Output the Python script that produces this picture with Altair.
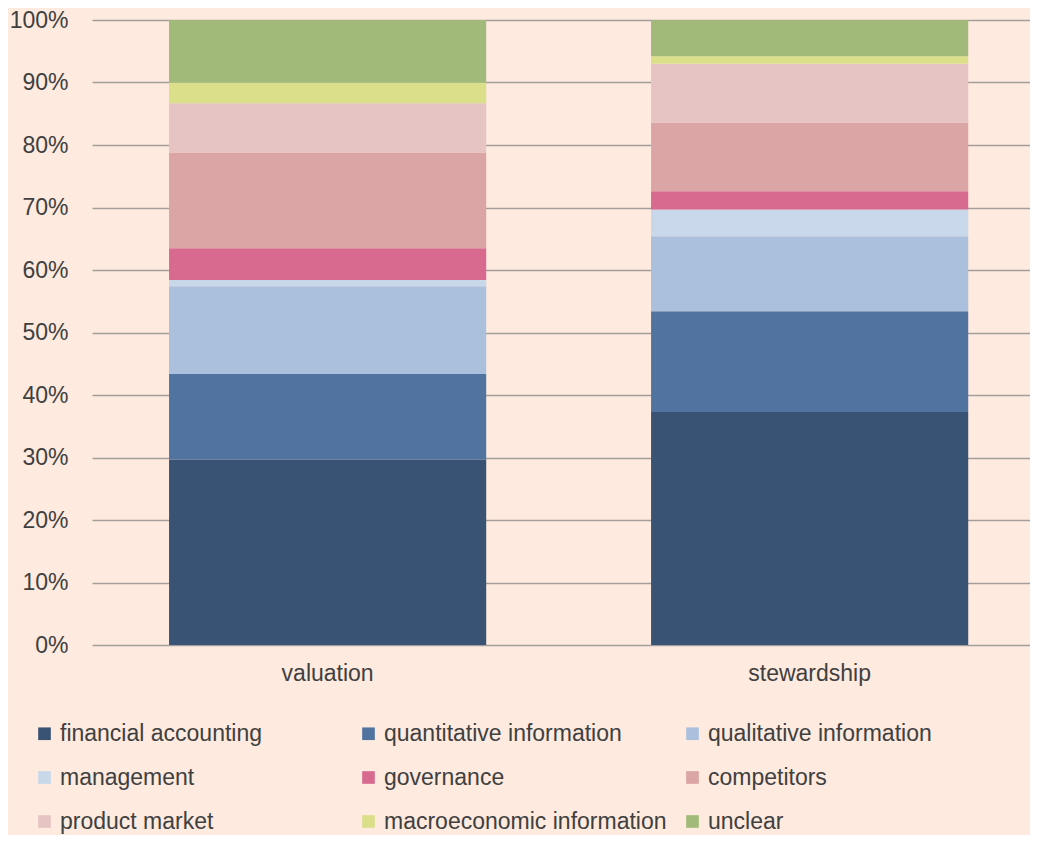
import altair as alt
import pandas as pd

groups = ["valuation", "stewardship"]
categories = [
    "financial accounting", "quantitative information", "qualitative information",
    "management", "governance", "competitors",
    "product market", "macroeconomic information", "unclear",
]
valuation = [29.7, 13.65, 14.05, 1.0, 5.1, 15.3, 7.9, 3.3, 10.0]
stewardship = [37.3, 16.1, 12.0, 4.3, 2.9, 11.0, 9.4, 1.2, 5.8]
colors = ["#385373", "#5073a0", "#aac0dc", "#c8d7e9", "#d86a8f",
          "#dca5a5", "#e6c4c3", "#dcdf8a", "#a1b979"]

rows = []
for g, vals in zip(groups, [valuation, stewardship]):
    for i, (c, v) in enumerate(zip(categories, vals)):
        rows.append({"group": g, "category": c, "idx": i, "value": v})
df = pd.DataFrame(rows)

FONT = "Liberation Sans"
TXT = "#404040"
FS = 23

chart = alt.Chart(df).mark_bar().encode(
    x=alt.X("group:N", sort=groups,
            scale=alt.Scale(paddingInner=0.342, paddingOuter=0.144, align=0.555),
            axis=alt.Axis(title=None, labelAngle=0, domain=False, ticks=False,
                          labelPadding=17, labelFontSize=FS, labelFont=FONT,
                          labelColor=TXT)),
    y=alt.Y("value:Q", stack="normalize",
            scale=alt.Scale(domain=[0, 1], nice=False),
            axis=alt.Axis(title=None, format=".0%", values=[i / 10 for i in range(11)],
                          domain=False, ticks=False, labelPadding=24,
                          labelFontSize=FS, labelFont=FONT, labelColor=TXT,
                          grid=True, gridColor="#a39e9b", gridWidth=1.5)),
    color=alt.Color("category:N", sort=categories,
                    scale=alt.Scale(domain=categories, range=colors),
                    legend=alt.Legend(title=None, orient="none", legendX=-59, legendY=702,
                                      direction="horizontal", columns=3, gridAlign="all",
                                      columnPadding=14, rowPadding=20, padding=0,
                                      symbolType="square", symbolSize=160,
                                      symbolStrokeWidth=0, symbolOffset=0,
                                      labelOffset=4, labelFontSize=FS, labelFont=FONT,
                                      labelColor=TXT, labelLimit=400)),
    order=alt.Order("idx:Q", sort="ascending"),
).properties(
    width=938, height=625,
    autosize=alt.AutoSizeParams(type="none"),
    padding={"left": 84, "top": 12, "right": 0, "bottom": 190},
    background="#feeadf",
).configure_view(stroke=None)

chart.save("out.html", embed_options={"renderer": "svg", "actions": False})
